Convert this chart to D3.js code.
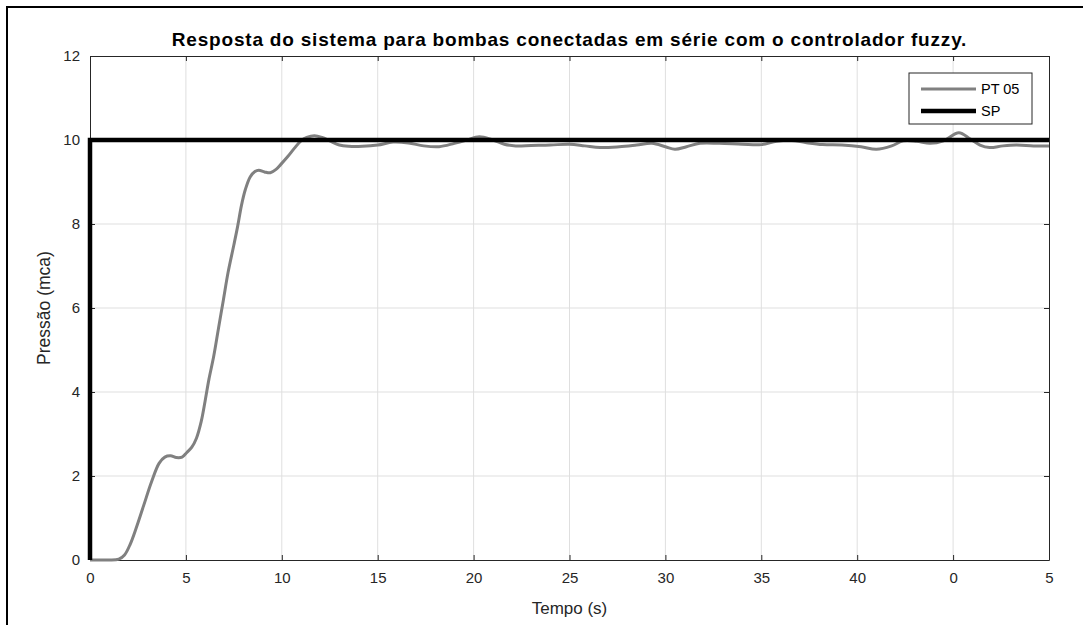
<!DOCTYPE html>
<html>
<head>
<meta charset="utf-8">
<script src="https://cdn.jsdelivr.net/npm/d3@7"></script>
<style>
  body { margin: 0; background: #fff; }
  svg text { font-family: "Liberation Sans", Arial, sans-serif; }
</style>
</head>
<body>
<div id="chart"></div>
<script>
// PT 05 pressure response (time s, pressure mca)
var ptTime = [0, 0.5, 1.0, 1.5, 1.8, 2.1, 2.4, 2.8, 3.2, 3.6, 3.9, 4.2, 4.5, 4.8, 5.05, 5.3, 5.55, 5.8, 6.0, 6.2, 6.45, 6.7, 6.95, 7.2, 7.5, 7.7, 7.9, 8.1, 8.35, 8.6, 8.8, 9.1, 9.4, 9.7, 9.95, 10.3, 10.65, 11.0, 11.3, 11.7, 12.1, 12.5, 13.0, 13.5, 14.2, 15.0, 15.8, 16.6, 17.4, 18.2, 19.0, 19.6, 20.3, 21.0, 21.6, 22.2, 23.0, 24.0, 25.0, 25.8, 26.6, 27.6, 28.5, 29.3, 30.0, 30.5, 31.1, 31.8, 32.8, 34.0, 35.0, 35.8, 36.6, 37.3, 38.2, 39.2, 40.2, 41.0, 41.8, 42.4, 43.1, 43.8, 44.5, 45.3, 45.9, 46.4, 46.9, 47.6, 48.3, 49.2, 50];
var ptValue = [0, 0, 0, 0.02, 0.12, 0.38, 0.75, 1.3, 1.85, 2.3, 2.45, 2.48, 2.44, 2.45, 2.56, 2.68, 2.9, 3.3, 3.78, 4.3, 4.85, 5.52, 6.18, 6.85, 7.5, 7.95, 8.45, 8.82, 9.12, 9.25, 9.28, 9.24, 9.22, 9.3, 9.42, 9.6, 9.8, 9.98, 10.06, 10.1, 10.06, 9.98, 9.88, 9.85, 9.85, 9.88, 9.95, 9.93, 9.86, 9.84, 9.92, 9.99, 10.08, 10.0, 9.9, 9.86, 9.87, 9.88, 9.9, 9.86, 9.82, 9.84, 9.88, 9.92, 9.84, 9.78, 9.84, 9.92, 9.92, 9.9, 9.89, 9.97, 9.99, 9.94, 9.89, 9.88, 9.84, 9.78, 9.86, 9.98, 9.97, 9.92, 9.98, 10.17, 10.02, 9.88, 9.82, 9.86, 9.88, 9.86, 9.86];

// SP set point
var spTime = [0, 0, 50];
var spValue = [0, 10, 10];

var xTicks = [0, 5, 10, 15, 20, 25, 30, 35, 40, 45, 50];
var xTickLabels = ["0", "5", "10", "15", "20", "25", "30", "35", "40", "0", "5"];
var yTicks = [0, 2, 4, 6, 8, 10, 12];

var seriesNames = ["PT 05", "SP"];
var seriesColors = ["#808080", "#000000"];

var width = 1083, height = 625;
var margin = {top: 56, right: 34, bottom: 65, left: 90};
var w = width - margin.left - margin.right;
var h = height - margin.top - margin.bottom;

var svg = d3.select("#chart").append("svg").attr("width", width).attr("height", height);

// outer frame (only top and left visible)
svg.append("rect").attr("x", 7).attr("y", 7).attr("width", 1200).attr("height", 800)
    .attr("fill", "none").attr("stroke", "#000").attr("stroke-width", 2);

var g = svg.append("g").attr("transform", "translate(" + margin.left + "," + margin.top + ")");

var x = d3.scaleLinear().domain([0, 50]).range([0, w]);
var y = d3.scaleLinear().domain([0, 12]).range([h, 0]);

// grid
g.append("g").selectAll("line").data(xTicks.slice(1, -1)).enter().append("line")
    .attr("x1", function(d) { return x(d); }).attr("x2", function(d) { return x(d); })
    .attr("y1", 0).attr("y2", h).attr("stroke", "#dfdfdf").attr("stroke-width", 1);
g.append("g").selectAll("line").data(yTicks.slice(1, -1)).enter().append("line")
    .attr("y1", function(d) { return y(d); }).attr("y2", function(d) { return y(d); })
    .attr("x1", 0).attr("x2", w).attr("stroke", "#dfdfdf").attr("stroke-width", 1);

// axes
var xAxis = d3.axisBottom(x).tickValues(xTicks).tickSizeInner(-5).tickSizeOuter(0).tickPadding(12)
    .tickFormat(function(d, i) { return xTickLabels[i]; });
var xTop = d3.axisTop(x).tickValues(xTicks).tickSizeInner(-5).tickSizeOuter(0).tickFormat("");
var yAxis = d3.axisLeft(y).tickValues(yTicks).tickSizeInner(-5).tickSizeOuter(0).tickPadding(10);
var yRight = d3.axisRight(y).tickValues(yTicks).tickSizeInner(-5).tickSizeOuter(0).tickFormat("");

function styleAxis(sel) {
    sel.selectAll("path").attr("stroke", "#262626").attr("stroke-width", 1);
    sel.selectAll("line").attr("stroke", "#262626");
    sel.selectAll("text").attr("fill", "#262626").style("font-size", "15px")
        .style("font-family", "'Liberation Sans', Arial, sans-serif");
}
g.append("g").attr("transform", "translate(0," + h + ")").call(xAxis).call(styleAxis);
g.append("g").call(xTop).call(styleAxis);
g.append("g").call(yAxis).call(styleAxis);
g.append("g").attr("transform", "translate(" + w + ",0)").call(yRight).call(styleAxis);

// lines
var ptData = d3.zip(ptTime, ptValue);
var spData = d3.zip(spTime, spValue);

g.append("path").datum(ptData)
    .attr("d", d3.line().x(function(d) { return x(d[0]); }).y(function(d) { return y(d[1]); })
        .curve(d3.curveCatmullRom.alpha(0.5)))
    .attr("fill", "none").attr("stroke", seriesColors[0]).attr("stroke-width", 3);
g.append("path").datum(spData)
    .attr("d", d3.line().x(function(d) { return x(d[0]); }).y(function(d) { return y(d[1]); }))
    .attr("fill", "none").attr("stroke", seriesColors[1]).attr("stroke-width", 4.5);

// title and labels
svg.append("text").attr("x", margin.left + w / 2).attr("y", 46).attr("text-anchor", "middle")
    .style("font-size", "19px").style("font-weight", "bold").style("letter-spacing", "0.8px")
    .attr("fill", "#000")
    .text("Resposta do sistema para bombas conectadas em série com o controlador fuzzy.");
svg.append("text").attr("x", margin.left + w / 2).attr("y", 614).attr("text-anchor", "middle")
    .style("font-size", "17px").attr("fill", "#262626").text("Tempo (s)");
svg.append("text").attr("transform", "translate(50," + (margin.top + h / 2) + ") rotate(-90)")
    .attr("text-anchor", "middle").style("font-size", "17.5px").attr("fill", "#262626").text("Pressão (mca)");

// legend
var leg = svg.append("g").attr("transform", "translate(909,73)");
leg.append("rect").attr("width", 123).attr("height", 51).attr("fill", "#fff")
    .attr("stroke", "#262626").attr("stroke-width", 1);
seriesNames.forEach(function(name, i) {
    var yy = 16 + i * 22;
    leg.append("line").attr("x1", 12).attr("x2", 67).attr("y1", yy).attr("y2", yy)
        .attr("stroke", seriesColors[i]).attr("stroke-width", i == 0 ? 3 : 4.5);
    leg.append("text").attr("x", 72).attr("y", yy + 5).style("font-size", "14.5px")
        .attr("fill", "#000").text(name);
});
</script>
</body>
</html>
